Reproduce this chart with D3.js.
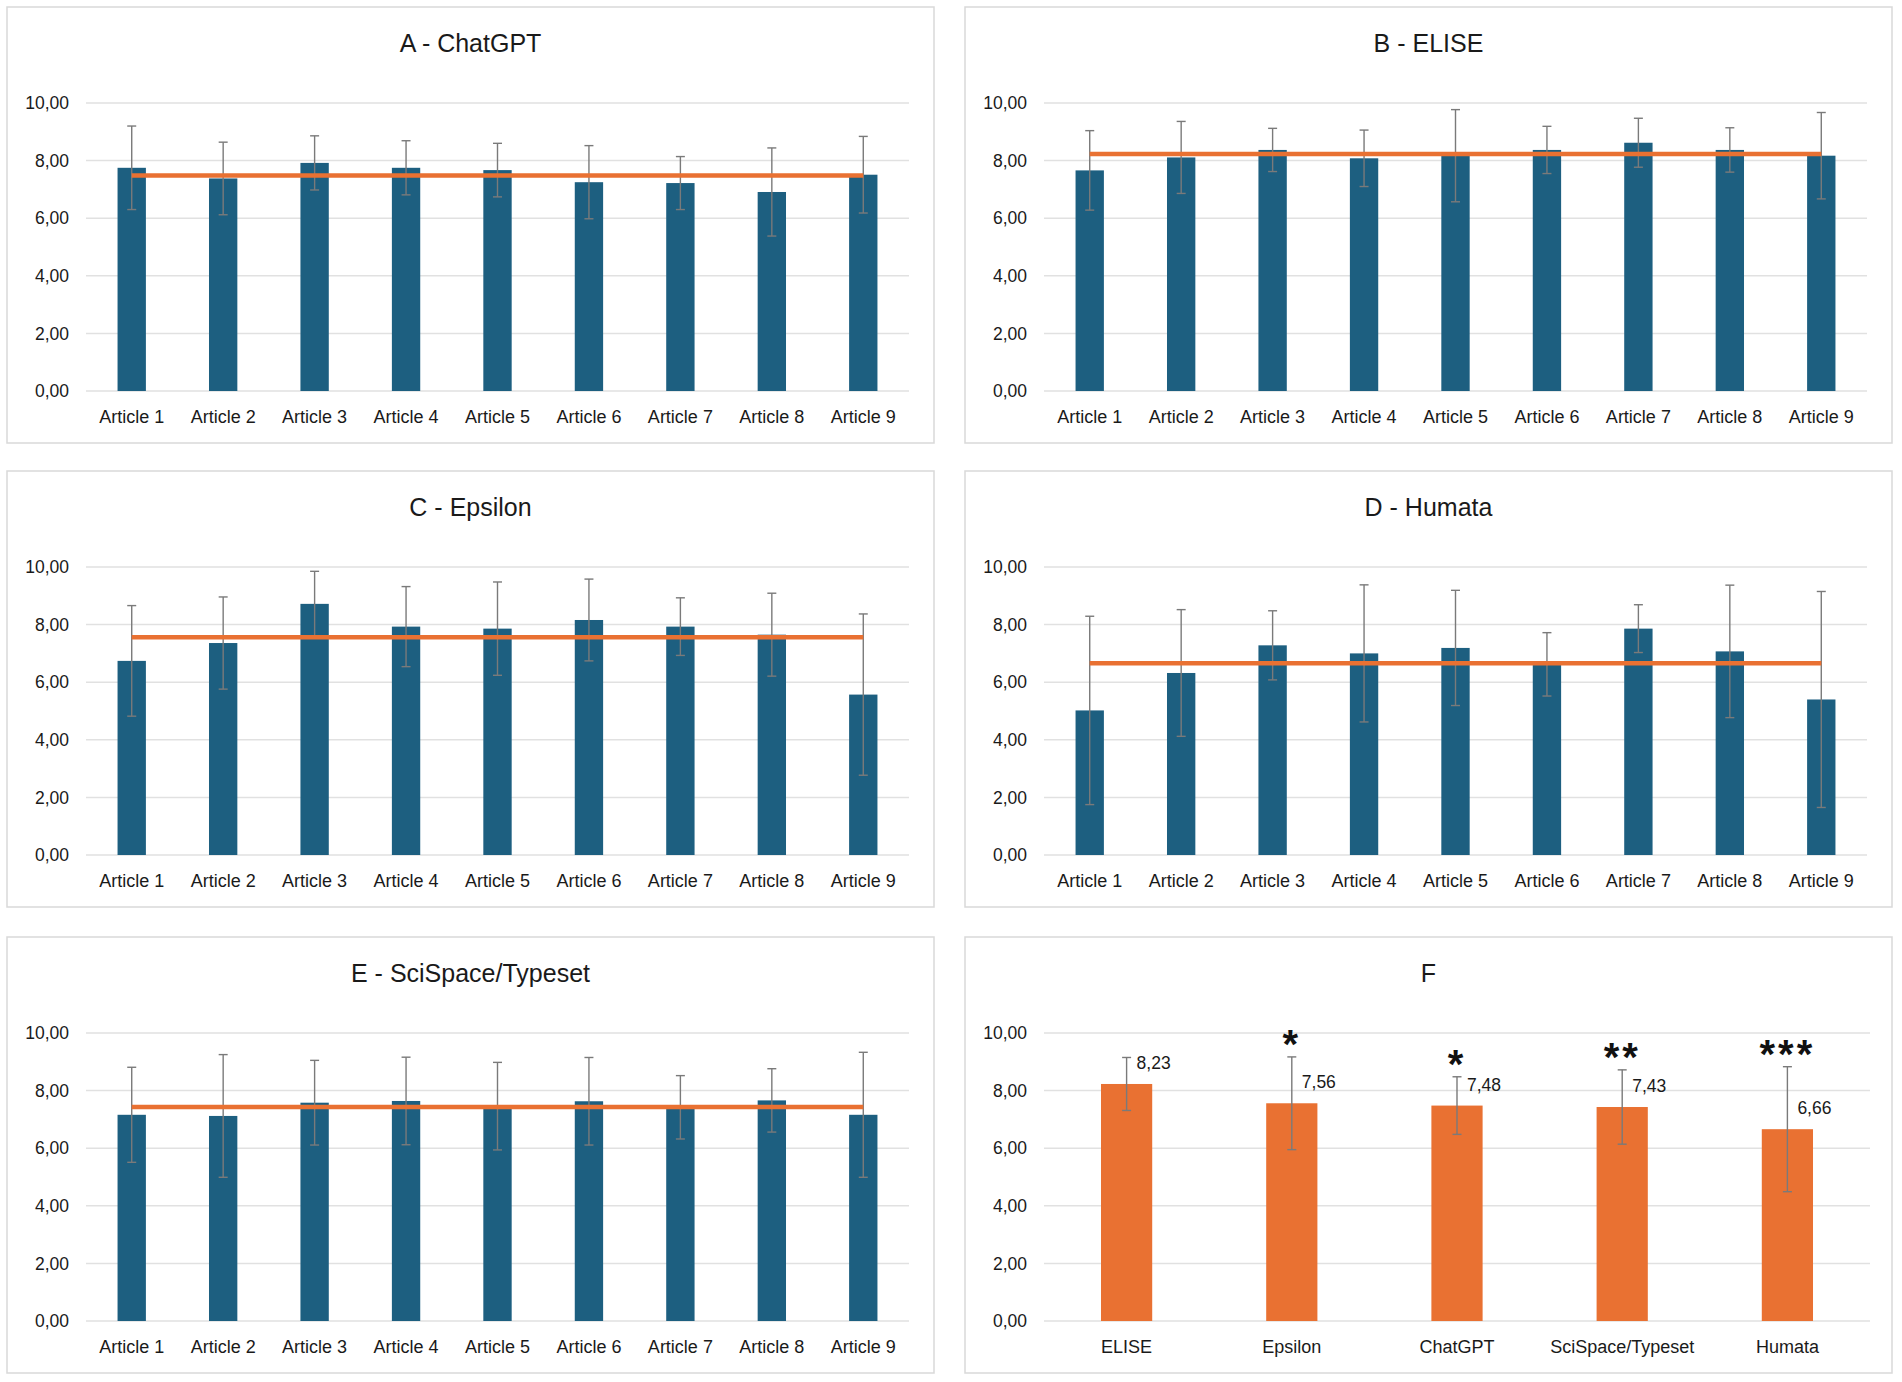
<!DOCTYPE html>
<html>
<head>
<meta charset="utf-8">
<script src="https://cdn.jsdelivr.net/npm/d3@7"></script>
<style>
  body { margin: 0; background: #fff; }
  svg { display: block; font-family: "Liberation Sans", Arial, sans-serif; }
</style>
</head>
<body>
<svg id="chart" width="1902" height="1382"></svg>
<script>
// categories
const articles = ["Article 1", "Article 2", "Article 3", "Article 4", "Article 5",
                  "Article 6", "Article 7", "Article 8", "Article 9"];
const tools = ["ELISE", "Epsilon", "ChatGPT", "SciSpace/Typeset", "Humata"];
const yTicks = [0, 2, 4, 6, 8, 10];

// A - ChatGPT
const chatgptMeans = [7.75, 7.38, 7.92, 7.75, 7.67, 7.25, 7.22, 6.91, 7.51];
const chatgptSD    = [1.45, 1.26, 0.94, 0.94, 0.93, 1.27, 0.92, 1.53, 1.33];
// B - ELISE
const eliseMeans = [7.66, 8.11, 8.37, 8.08, 8.17, 8.37, 8.62, 8.37, 8.17];
const eliseSD    = [1.38, 1.25, 0.75, 0.98, 1.60, 0.82, 0.85, 0.77, 1.50];
// C - Epsilon
const epsilonMeans = [6.74, 7.36, 8.72, 7.93, 7.86, 8.16, 7.93, 7.65, 5.57];
const epsilonSD    = [1.92, 1.60, 1.13, 1.39, 1.62, 1.42, 1.00, 1.44, 2.80];
// D - Humata
const humataMeans = [5.02, 6.32, 7.28, 7.00, 7.19, 6.62, 7.86, 7.07, 5.40];
const humataSD    = [3.27, 2.20, 1.20, 2.38, 2.00, 1.10, 0.83, 2.30, 3.75];
// E - SciSpace/Typeset
const scispaceMeans = [7.16, 7.12, 7.58, 7.64, 7.46, 7.63, 7.42, 7.66, 7.16];
const scispaceSD    = [1.65, 2.13, 1.47, 1.52, 1.52, 1.52, 1.10, 1.10, 2.17];
// F - overall per tool
const toolMeans = [8.23, 7.56, 7.48, 7.43, 6.66];
const toolSD    = [0.92, 1.61, 1.00, 1.29, 2.17];
const toolStars = ["", "*", "*", "**", "***"];

const fmt = d3.formatLocale({ decimal: ",", thousands: ".", grouping: [3], currency: ["", ""] }).format(".2f");

const svg = d3.select("#chart");

const panelW = 927, panelH = 436;
const plot = { left: 79, top: 96, bottom: 384 };

function drawPanel(px, py, title, cats, means, sds, opts) {
  const g = svg.append("g").attr("transform", `translate(${px},${py})`);
  const right = opts.right;

  g.append("rect")
    .attr("x", 0).attr("y", 0)
    .attr("width", panelW).attr("height", panelH)
    .attr("fill", "#fff")
    .attr("stroke", "#d9d9d9")
    .attr("stroke-width", 1.5);

  g.append("text")
    .attr("x", panelW / 2).attr("y", 36)
    .attr("text-anchor", "middle")
    .attr("dominant-baseline", "central")
    .attr("font-size", 25)
    .attr("fill", "#1a1a1a")
    .text(title);

  const x = d3.scaleBand().domain(cats).range([plot.left, right]).paddingInner(0).paddingOuter(0);
  const y = d3.scaleLinear().domain([0, 10]).range([plot.bottom, plot.top]);
  const barW = x.bandwidth() * 0.31;
  const cx = d => x(d) + x.bandwidth() / 2;

  // gridlines
  g.append("g")
    .selectAll("line")
    .data(yTicks)
    .join("line")
    .attr("x1", plot.left).attr("x2", right)
    .attr("y1", d => y(d)).attr("y2", d => y(d))
    .attr("stroke", "#e1e1e1")
    .attr("stroke-width", 1.5);

  // y axis labels
  const yAxis = g.append("g")
    .attr("transform", `translate(${plot.left},0)`)
    .call(d3.axisLeft(y).tickValues(yTicks).tickFormat(fmt).tickSize(0).tickPadding(17));
  yAxis.select(".domain").remove();
  yAxis.selectAll("text").attr("font-size", 17.5).attr("fill", "#1a1a1a");

  // x axis labels
  const xAxis = g.append("g")
    .attr("transform", `translate(0,${plot.bottom})`)
    .call(d3.axisBottom(x).tickSize(0).tickPadding(19));
  xAxis.select(".domain").remove();
  xAxis.selectAll("text").attr("font-size", 18).attr("fill", "#1a1a1a");

  const rows = cats.map((c, i) => ({ cat: c, mean: means[i], sd: sds[i], i }));

  // bars
  g.append("g")
    .selectAll("rect")
    .data(rows)
    .join("rect")
    .attr("x", d => cx(d.cat) - barW / 2)
    .attr("width", barW)
    .attr("y", d => y(d.mean))
    .attr("height", d => y(0) - y(d.mean))
    .attr("fill", opts.color);

  // error bars
  const eb = g.append("g").attr("stroke", "#7a7a7a").attr("stroke-width", 1.4);
  eb.selectAll("line.v")
    .data(rows)
    .join("line")
    .attr("class", "v")
    .attr("x1", d => cx(d.cat)).attr("x2", d => cx(d.cat))
    .attr("y1", d => y(d.mean - d.sd)).attr("y2", d => y(d.mean + d.sd));
  eb.selectAll("line.top")
    .data(rows)
    .join("line")
    .attr("class", "top")
    .attr("x1", d => cx(d.cat) - 4.5).attr("x2", d => cx(d.cat) + 4.5)
    .attr("y1", d => y(d.mean + d.sd)).attr("y2", d => y(d.mean + d.sd));
  eb.selectAll("line.bot")
    .data(rows)
    .join("line")
    .attr("class", "bot")
    .attr("x1", d => cx(d.cat) - 4.5).attr("x2", d => cx(d.cat) + 4.5)
    .attr("y1", d => y(d.mean - d.sd)).attr("y2", d => y(d.mean - d.sd));

  // overall mean line
  if (opts.overall !== undefined) {
    const line = d3.line().x(d => cx(d)).y(() => y(opts.overall));
    g.append("path")
      .datum(cats)
      .attr("d", line)
      .attr("fill", "none")
      .attr("stroke", "#E97132")
      .attr("stroke-width", 4.5);
  }

  // value labels
  if (opts.labels) {
    g.append("g")
      .selectAll("text")
      .data(rows)
      .join("text")
      .attr("x", d => cx(d.cat) + 10)
      .attr("y", d => y(d.mean) - 21)
      .attr("dominant-baseline", "central")
      .attr("font-size", 17.5)
      .attr("fill", "#1a1a1a")
      .text(d => fmt(d.mean));
  }

  // significance stars
  if (opts.stars) {
    g.append("g")
      .selectAll("text")
      .data(rows)
      .join("text")
      .attr("x", d => cx(d.cat))
      .attr("y", d => y(d.mean + d.sd) + 1)
      .attr("text-anchor", "middle")
      .attr("font-size", 40)
      .attr("font-weight", "bold")
      .attr("letter-spacing", 3)
      .attr("fill", "#111")
      .text(d => opts.stars[d.i]);
  }
}

const colX = [7, 965], rowY = [7, 471, 937];
const blue = "#1D5F80", orange = "#E97132";

drawPanel(colX[0], rowY[0], "A - ChatGPT", articles, chatgptMeans, chatgptSD, { color: blue, right: 902, overall: toolMeans[2] });
drawPanel(colX[1], rowY[0], "B - ELISE", articles, eliseMeans, eliseSD, { color: blue, right: 902, overall: toolMeans[0] });
drawPanel(colX[0], rowY[1], "C - Epsilon", articles, epsilonMeans, epsilonSD, { color: blue, right: 902, overall: toolMeans[1] });
drawPanel(colX[1], rowY[1], "D - Humata", articles, humataMeans, humataSD, { color: blue, right: 902, overall: toolMeans[4] });
drawPanel(colX[0], rowY[2], "E - SciSpace/Typeset", articles, scispaceMeans, scispaceSD, { color: blue, right: 902, overall: toolMeans[3] });
drawPanel(colX[1], rowY[2], "F", tools, toolMeans, toolSD, { color: orange, right: 905, labels: true, stars: toolStars });
</script>
</body>
</html>
